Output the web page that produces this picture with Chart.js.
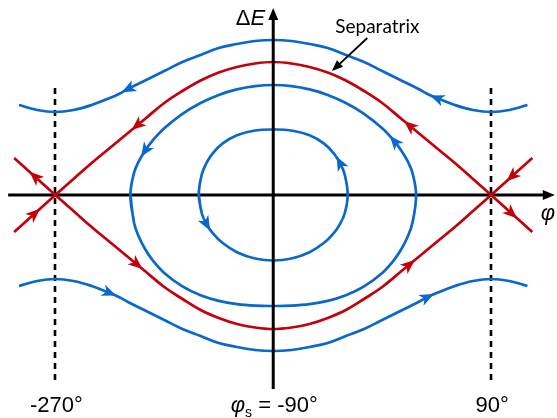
<!DOCTYPE html>
<html>
<head>
<meta charset="utf-8">
<script src="https://cdn.jsdelivr.net/npm/chart.js@4/dist/chart.umd.min.js"></script>
<style>
  html, body { margin: 0; padding: 0; background: #ffffff; }
  canvas { display: block; }
</style>
</head>
<body>
<canvas id="phase" width="557" height="418"></canvas>
<script>
// Longitudinal phase space (φ, ΔE) around the stable phase φs = -90°.

// Separatrix: upper and lower branches, continued a little past both saddle points
const sepPhi = [-304, -287, -270, -255, -240, -225, -210, -202.5, -195, -180, -165, -150, -135, -120, -105,
  -90, -75, -60, -45, -30, -15, 0, 15, 22.5, 30, 45, 60, 75, 90, 107, 124];
const sepUpperDE = [-3.7, -1.85, 0, 1.6, 3.2, 4.7, 6.2, 6.95, 7.7, 9.2, 10.4, 11.45, 12.25, 12.8, 13.15,
  13.3, 13.15, 12.8, 12.25, 11.45, 10.4, 9.2, 7.7, 6.95, 6.2, 4.7, 3.2, 1.6, 0, -1.85, -3.7];
const sepLowerDE = [3.7, 1.85, 0, -1.6, -3.2, -4.7, -6.2, -6.95, -7.7, -9.2, -10.4, -11.5, -12.3, -12.9, -13.25,
  -13.4, -13.25, -12.9, -12.3, -11.5, -10.4, -9.2, -7.7, -6.95, -6.2, -4.7, -3.2, -1.6, 0, 1.85, 3.7];

// Unbounded trajectories outside the bucket
const outerPhi = [-300, -285, -270, -255, -240, -225, -217.5, -210, -195, -180, -165, -150, -135, -120, -105,
  -90, -75, -60, -45, -30, -15, 0, 15, 30, 37.5, 45, 60, 75, 90, 105, 120];
const outerUpperDE = [9.0, 8.5, 8.3, 8.5, 9.0, 9.7, 10.1, 10.6, 11.5, 12.4, 13.3, 14.0, 14.7, 15.1, 15.4,
  15.5, 15.4, 15.1, 14.7, 14.0, 13.3, 12.4, 11.5, 10.6, 10.1, 9.7, 9.0, 8.5, 8.3, 8.5, 9.0];
const outerLowerDE = [-9.1, -8.6, -8.4, -8.6, -9.1, -9.8, -10.2, -10.7, -11.6, -12.5, -13.4, -14.1, -14.8, -15.2, -15.5,
  -15.6, -15.5, -15.2, -14.8, -14.1, -13.4, -12.5, -11.6, -10.7, -10.2, -9.8, -9.1, -8.6, -8.4, -8.6, -9.1];

// Closed orbits inside the bucket, listed in the direction of motion
const largeOrbitPhi = [-208, -205, -201, -196, -190, -180, -165, -150, -135, -120, -105, -90, -75, -60, -45,
  -30, -15, 0, 10, 16, 21, 25, 28, 25, 21, 16, 10, 0, -15, -30, -45, -60, -75, -90, -105, -120, -135,
  -150, -165, -180, -190, -196, -201, -205, -208, -205];
const largeOrbitDE = [0, -2.77, -4.18, -5.38, -6.46, -7.79, -9.14, -10.02, -10.59, -10.92, -11.07, -11.1, -11.07, -10.92, -10.59,
  -10.02, -9.14, -7.79, -6.46, -5.38, -4.18, -2.77, 0, 2.21, 3.38, 4.41, 5.39, 6.67, 8.12, 9.2, 10.01, 10.56, 10.89,
  11.0, 10.89, 10.56, 10.01, 9.2, 8.12, 6.67, 5.39, 4.41, 3.38, 2.21, 0, -2.77];

const smallOrbitPhi = [-151.5, -149, -145, -140, -132, -120, -105, -90, -75, -60, -48, -40, -35, -31, -28.5,
  -31, -35, -40, -48, -60, -75, -90, -105, -120, -132, -140, -145, -149, -151.5, -149];
const smallOrbitDE = [0, -1.85, -2.93, -3.81, -4.78, -5.72, -6.35, -6.55, -6.35, -5.72, -4.78, -3.81, -2.93, -1.85, 0,
  2.06, 3.23, 4.16, 5.14, 5.98, 6.45, 6.55, 6.45, 5.98, 5.14, 4.16, 3.23, 2.06, 0, -1.85];

// Phase axis labels
const phiTicks = [-270, -90, 90];
const phiTickLabels = ['-270°', 'φs = -90°', '90°'];
const saddlePhis = [-270, 90];

// Extent of the drawn axes and guide lines
const phiAxisRange = [-309, 142.6];
const deAxisRange = [-19.4, 18.7];
const guideDERange = [-18.8, 10.7];

// Flow direction markers: dataset, point index, +1 along point order / -1 against it
const flowArrows = [
  [0, 7, -1], [0, 25, -1],
  [1, 5, 1], [1, 24, 1],
  [2, 7, -1], [2, 23, -1], [2, 1, 1], [2, 29, 1],
  [3, 7, 1], [3, 23, 1], [3, 1, -1], [3, 29, -1],
  [4, 26, 1], [4, 41, 1],
  [5, 2, 1], [5, 16, 1]
];

// "Separatrix" callout: label anchor and pointer (φ, ΔE)
const calloutLabel = [-4, 16.2];
const calloutFrom = [-12.3, 15.7];
const calloutTo = [-41.5, 12.4];

const BLUE = '#0868CC';
const RED = '#C4000A';
const FONT = '"Liberation Sans", Arial, sans-serif';

const pts = (xs, ys) => xs.map((x, i) => ({ x, y: ys[i] }));

function arrowHead(ctx, tx, ty, ux, uy, len, half, notch, color) {
  const nx = -uy, ny = ux;
  const bx = tx - ux * len, by = ty - uy * len;
  ctx.beginPath();
  ctx.moveTo(tx, ty);
  ctx.lineTo(bx + nx * half, by + ny * half);
  ctx.lineTo(tx - ux * (len - notch), ty - uy * (len - notch));
  ctx.lineTo(bx - nx * half, by - ny * half);
  ctx.closePath();
  ctx.fillStyle = color;
  ctx.fill();
}

function drawRuns(ctx, runs, x, baseline, align) {
  let total = 0;
  for (const r of runs) { ctx.font = r.font; total += ctx.measureText(r.text).width; }
  let cx = align === 'center' ? x - total / 2 : align === 'right' ? x - total : x;
  ctx.textAlign = 'left';
  ctx.textBaseline = 'alphabetic';
  for (const r of runs) {
    ctx.font = r.font;
    ctx.fillText(r.text, cx, baseline + (r.dy || 0));
    cx += ctx.measureText(r.text).width;
  }
}

function tickRuns(label) {
  if (label.startsWith('φs')) {
    return [
      { text: 'φ', font: 'italic 22px ' + FONT },
      { text: 's', font: '14px ' + FONT, dy: 5 },
      { text: label.slice(2), font: '22px ' + FONT }
    ];
  }
  return [{ text: label, font: '22px ' + FONT }];
}

const phaseFrame = {
  id: 'phaseFrame',
  beforeDatasetsDraw(chart) {
    const { ctx, scales: { x, y } } = chart;
    const y0 = y.getPixelForValue(0);
    ctx.save();
    ctx.strokeStyle = '#000';
    // dashed guides through the unstable fixed points
    ctx.lineWidth = 2.6;
    ctx.setLineDash([6, 5]);
    for (const p of saddlePhis) {
      const px = Math.round(x.getPixelForValue(p));
      ctx.beginPath();
      ctx.moveTo(px, y.getPixelForValue(guideDERange[1]));
      ctx.lineTo(px, y.getPixelForValue(guideDERange[0]));
      ctx.stroke();
    }
    ctx.setLineDash([]);
    // φ axis
    const xa = x.getPixelForValue(phiAxisRange[0]);
    const xb = x.getPixelForValue(phiAxisRange[1]);
    ctx.lineWidth = 3;
    ctx.beginPath();
    ctx.moveTo(xa, y0);
    ctx.lineTo(xb - 8, y0);
    ctx.stroke();
    arrowHead(ctx, xb, y0, 1, 0, 12, 5, 0, '#000');
    ctx.restore();
  },
  afterDatasetsDraw(chart) {
    const { ctx, scales: { x, y } } = chart;
    const x0 = x.getPixelForValue(-90);
    const yTop = y.getPixelForValue(deAxisRange[1]);
    const yBot = y.getPixelForValue(deAxisRange[0]);
    ctx.save();
    // ΔE axis
    ctx.strokeStyle = '#000';
    ctx.lineWidth = 3;
    ctx.beginPath();
    ctx.moveTo(x0, yBot);
    ctx.lineTo(x0, yTop + 8);
    ctx.stroke();
    arrowHead(ctx, x0, yTop, 0, -1, 12, 5, 0, '#000');

    // flow arrows
    for (const [ds, i, dir] of flowArrows) {
      const el = chart.getDatasetMeta(ds).data;
      const a = el[Math.max(i - 1, 0)], b = el[Math.min(i + 1, el.length - 1)];
      let ux = (b.x - a.x) * dir, uy = (b.y - a.y) * dir;
      const n = Math.hypot(ux, uy);
      ux /= n; uy /= n;
      const p = el[i];
      const color = chart.data.datasets[ds].borderColor;
      arrowHead(ctx, p.x + ux * 7, p.y + uy * 7, ux, uy, 14.5, 6, 4, color);
    }

    // axis titles
    ctx.fillStyle = '#000';
    drawRuns(ctx, [
      { text: 'Δ', font: '22px ' + FONT },
      { text: 'E', font: 'italic 22px ' + FONT }
    ], x0 - 8, yTop + 17, 'right');
    drawRuns(ctx, [{ text: 'φ', font: 'italic 22px ' + FONT }],
      x.getPixelForValue(phiAxisRange[1]) - 14, y.getPixelForValue(0) + 25, 'left');

    // phase tick labels
    phiTicks.forEach((p, k) => {
      drawRuns(ctx, tickRuns(phiTickLabels[k]), x.getPixelForValue(p) + 1, chart.chartArea.bottom - 6, 'center');
    });

    // separatrix callout
    const fx = x.getPixelForValue(calloutFrom[0]), fy = y.getPixelForValue(calloutFrom[1]);
    const tx = x.getPixelForValue(calloutTo[0]), ty = y.getPixelForValue(calloutTo[1]);
    let ux = tx - fx, uy = ty - fy;
    const n = Math.hypot(ux, uy);
    ux /= n; uy /= n;
    ctx.strokeStyle = '#000';
    ctx.lineWidth = 1.8;
    ctx.beginPath();
    ctx.moveTo(fx, fy);
    ctx.lineTo(tx - ux * 8, ty - uy * 8);
    ctx.stroke();
    arrowHead(ctx, tx, ty, ux, uy, 11, 4.5, 0, '#000');
    drawRuns(ctx, [{ text: 'Separatrix', font: '19px Lato, "Open Sans", sans-serif' }],
      x.getPixelForValue(calloutLabel[0]), y.getPixelForValue(calloutLabel[1]), 'center');
    ctx.restore();
  }
};

const curve = (data, color) => ({
  data, borderColor: color, borderWidth: 2.7, tension: 0.4,
  pointRadius: 0, fill: false, borderCapStyle: 'butt', borderJoinStyle: 'round'
});

new Chart(document.getElementById('phase'), {
  type: 'line',
  data: {
    datasets: [
      curve(pts(outerPhi, outerUpperDE), BLUE),
      curve(pts(outerPhi, outerLowerDE), BLUE),
      curve(pts(sepPhi, sepUpperDE), RED),
      curve(pts(sepPhi, sepLowerDE), RED),
      curve(pts(largeOrbitPhi, largeOrbitDE), BLUE),
      curve(pts(smallOrbitPhi, smallOrbitDE), BLUE)
    ]
  },
  options: {
    responsive: false,
    animation: false,
    devicePixelRatio: 1,
    layout: { padding: 0 },
    plugins: { legend: { display: false }, tooltip: { enabled: false } },
    scales: {
      x: { type: 'linear', min: -315.7, max: 144.4, display: false },
      y: { type: 'linear', min: -22.3, max: 19.5, display: false }
    }
  },
  plugins: [phaseFrame]
});
</script>
</body>
</html>
